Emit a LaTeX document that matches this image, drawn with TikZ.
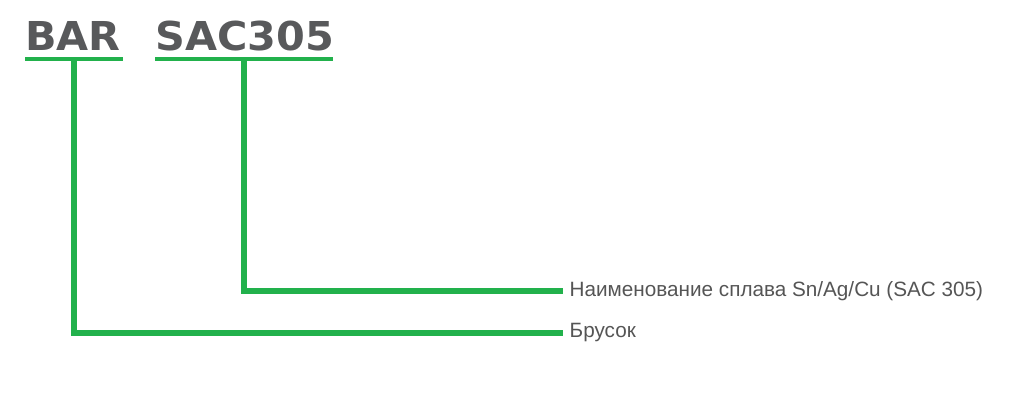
\documentclass[tikz,border=0pt]{standalone}
\usepackage{fontspec}
\setmainfont{Liberation Sans}
\newfontfamily\codefont{DejaVu Sans}[FakeStretch=1.04]
\usepackage{xcolor}
\definecolor{mgreen}{HTML}{22B14C}
\definecolor{mgray}{HTML}{58595B}
\definecolor{tgray}{HTML}{555555}
\usetikzlibrary{calc,positioning}

\begin{document}
\begin{tikzpicture}[x=1pt,y=-1pt,
    code/.style={inner sep=0pt, anchor=base west, text=mgray,
      font=\codefont\bfseries\fontsize{39.8}{40}\selectfont},
    uline/.style={line width=4.5pt, mgreen},
    lead/.style={line width=6pt, mgreen},
    label/.style={inner xsep=6.5pt, inner ysep=0pt, anchor=west, text=tgray,
      font=\fontsize{20.7}{22}\selectfont}]
            % Canvas
            \useasboundingbox (0,0) rectangle (1024,409);

            % Parts of the code
            \node[code] (bar) at (25,51) {BAR};
            \node[code] (sac) at (155,51) {SAC305};

            % Underlines under each part
            \coordinate (barL) at (25,59);
            \coordinate (barR) at (123,59);
            \coordinate (sacL) at (155,59);
            \coordinate (sacR) at (333,59);
            \draw[uline] (barL) -- (barR);
            \draw[uline] (sacL) -- (sacR);

            % Start points of the leads
            \coordinate (barM) at (74,59);
            \coordinate (sacM) at (243.5,59);

            % Explanations
            \node[label] (alloy) at (563,291) {Наименование сплава Sn/Ag/Cu (SAC 305)};
            \node[label] (brusok) at (563,332.5) {Брусок};

            % Leads from the parts to the explanations
            \draw[lead] (sacM) |- (alloy.west);
            \draw[lead] (barM) |- (brusok.west);
\end{tikzpicture}
\end{document}
